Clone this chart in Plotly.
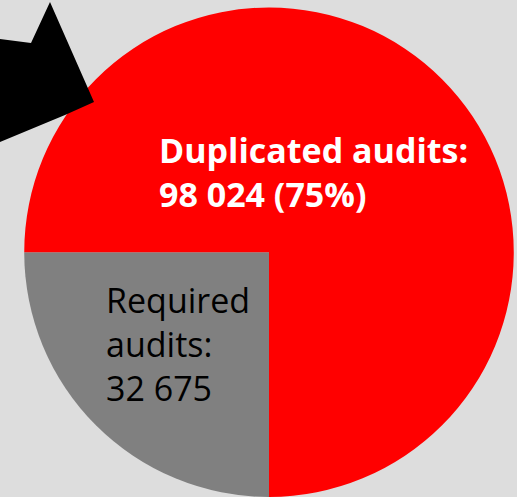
import plotly.graph_objects as go

categories = ["Required audits", "Duplicated audits"]
values = [32675, 98024]
colors = ["#808080", "#ff0000"]

W, H = 517, 497

def fmt(v):
    return f"{v:,}".replace(",", " ")

total = sum(values)
pct_dup = round(values[1] / total * 100)

fig = go.Figure(go.Pie(
    labels=categories,
    values=values,
    marker=dict(colors=colors, line=dict(width=0)),
    sort=False,
    direction="clockwise",
    rotation=180,
    textinfo="none",
    hoverinfo="label+value",
    showlegend=False,
    domain=dict(x=[23 / W, 515 / W], y=[0, 0.985]),
))

def px(x):
    return x / W

def py(y):
    return 1 - y / H

arrow = [(0, 39), (31, 43), (50, 2), (94, 102), (65, 115), (0, 142)]
path = "M " + " L ".join(f"{px(x)},{py(y)}" for x, y in arrow) + " Z"
fig.add_shape(type="path", path=path, xref="paper", yref="paper",
              fillcolor="black", line=dict(width=0), layer="above")

dup_words = categories[1].split()
req_words = categories[0].split()

fig.add_annotation(
    x=px(157), y=py(125), xref="paper", yref="paper",
    xanchor="left", yanchor="top", align="left", showarrow=False,
    text=f"<b>{dup_words[0]} {dup_words[1]}:<br>{fmt(values[1])} ({pct_dup}%)</b>",
    font=dict(family="Open Sans", size=34, color="white"),
)
fig.add_annotation(
    x=px(104), y=py(275), xref="paper", yref="paper",
    xanchor="left", yanchor="top", align="left", showarrow=False,
    text=f"{req_words[0]}<br>{req_words[1]}:<br>{fmt(values[0])}",
    font=dict(family="Open Sans", size=34, color="black"),
)

fig.update_layout(
    width=W, height=H,
    margin=dict(l=0, r=0, t=0, b=0),
    paper_bgcolor="#dddddd",
    plot_bgcolor="#dddddd",
)

fig.write_html("out.html", config={"displayModeBar": False},
               post_script="document.body.style.margin='0';document.body.style.overflow='hidden';")
